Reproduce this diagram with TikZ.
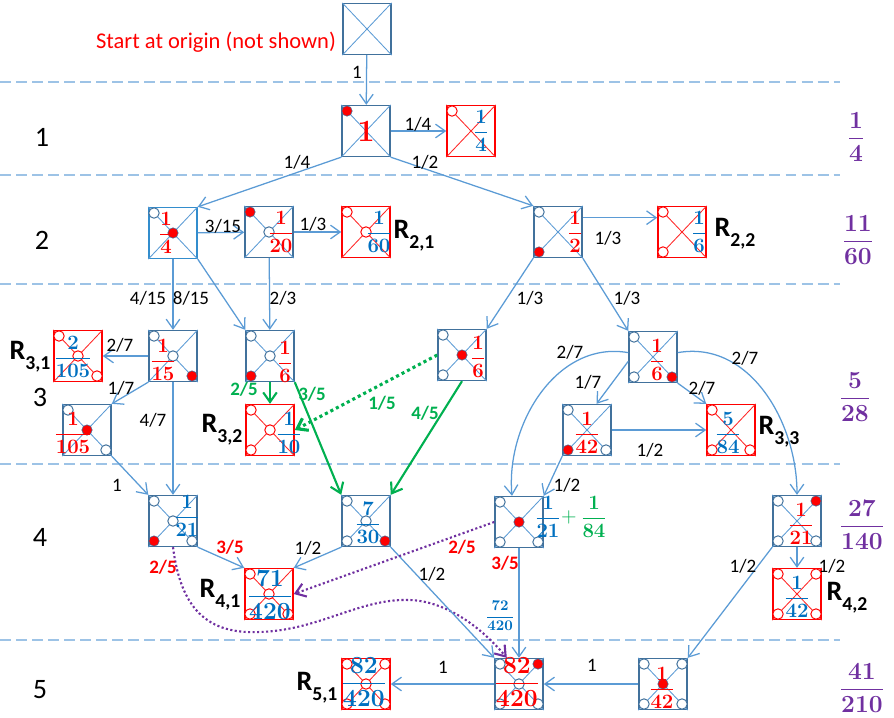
\RequirePackage{fix-cm}
\documentclass[tikz,border=0pt]{standalone}
\usepackage{amsmath}
\usepackage[no-math]{fontspec}
\setmainfont{Carlito}
\usetikzlibrary{arrows.meta}

\definecolor{boxblue}{RGB}{65,113,156}
\definecolor{lineblue}{RGB}{91,155,213}
\definecolor{dashblue}{RGB}{157,195,230}
\definecolor{fblue}{RGB}{0,112,192}
\definecolor{grn}{RGB}{0,176,80}
\definecolor{purp}{RGB}{112,48,160}

\newcommand{\cross}[2]{\draw[#2] (#1.north west) -- (#1.south east) (#1.north east) -- (#1.south west);}
\newcommand{\mk}[3]{\draw[#3] (#1) ++(#2) circle[radius=0.13cm];}
\newcommand{\fr}[2]{$\dfrac{\mathbf{#1}}{\mathbf{#2}}$}
\newcommand{\Rs}[1]{R\raisebox{-0.35em}{\fontsize{14}{14}\selectfont\bfseries #1}}

\tikzset{
  box/.style={draw=boxblue, fill=white, line width=1.1pt, minimum width=1.2cm, minimum height=1.27cm, inner sep=0pt},
  rbox/.style={box, draw=red},
  dg/.style={draw=lineblue, line width=0.6pt},
  rdg/.style={draw=red!85, line width=0.6pt},
  oc/.style={fill=white, draw=boxblue, line width=0.7pt},
  roc/.style={fill=white, draw=red, line width=0.7pt},
  dot/.style={fill=red, draw=boxblue, line width=0.4pt},
  tip/.style={-{Straight Barb[length=2.4mm,width=3.4mm]}},
  flow/.style={tip, draw=lineblue, line width=0.9pt},
  gflow/.style={tip, draw=grn, line width=1.5pt},
  gdot/.style={gflow, line width=2.2pt, dash pattern=on 2.2pt off 2.2pt},
  pdot/.style={tip, draw=purp, line width=1.5pt, dash pattern=on 1.5pt off 1.7pt},
  sep/.style={draw=dashblue, line width=1.2pt, dash pattern=on 7.8pt off 3.6pt},
  lab/.style={font=\fontsize{13.5}{13.5}\selectfont, inner sep=1pt},
  blab/.style={lab, font=\fontsize{13.5}{13.5}\selectfont\bfseries},
  fr/.style={font=\fontsize{14.5}{14.5}\selectfont, inner sep=0pt},
  bigfr/.style={font=\fontsize{17.5}{17.5}\selectfont, inner sep=0pt},
  rl/.style={font=\fontsize{20}{20}\selectfont\bfseries, inner sep=0pt},
  rownum/.style={font=\fontsize{20}{20}\selectfont},
  tot/.style={text=purp, font=\fontsize{17.5}{17.5}\selectfont, inner sep=0pt}
}

\begin{document}
\begin{tikzpicture}[x=0.025cm, y=-0.025cm]
\useasboundingbox (0,0) rectangle (894,717);

% level separators
\foreach \yy in {82,175,284,464,640}
  \draw[sep] (0,\yy) -- (840,\yy);

% row numbers and totals
\node[rownum] (n1) at (42,137) {1};
\node[rownum] (n2) at (42,240) {2};
\node[rownum] (n3) at (40,397) {3};
\node[rownum] (n4) at (40,537) {4};
\node[rownum] (n5) at (40,690) {5};
\node[tot] (t1) at (856,137) {\fr{1}{4}};
\node[tot] (t2) at (858,240) {\fr{11}{60}};
\node[tot] (t3) at (855,397) {\fr{5}{28}};
\node[tot] (t4) at (862,525) {\fr{27}{140}};
\node[tot] (t5) at (862,688) {\fr{41}{210}};

\node[text=red, font=\fontsize{16}{16}\selectfont] (start) at (216,42) {Start at origin (not shown)};

% boxes
\node[box] (o) at (367,29) {};
\node[box] (a) at (366,131) {};
\node[rbox] (ra) at (471,131) {};
\node[box, draw=fblue!80] (b1) at (173,233) {};
\node[box] (b2) at (269,232) {};
\node[rbox] (rb1) at (366,232) {};
\node[box] (b3) at (558,232) {};
\node[rbox] (rb2) at (682,232) {};
\node[rbox] (rc1) at (78,356) {};
\node[box] (c1) at (173,356) {};
\node[box] (c2) at (270,356) {};
\node[box] (c3) at (87,430) {};
\node[rbox] (rc2) at (270,430) {};
\node[box] (c4) at (462,355) {};
\node[box] (c5) at (653,357) {};
\node[box] (c6) at (587,430) {};
\node[rbox] (rc3) at (731,430) {};
\node[box] (d1) at (173,521) {};
\node[box] (d2) at (366,521) {};
\node[rbox] (rd1) at (269,594) {};
\node[box] (d3) at (519,522) {};
\node[box] (d4) at (797,521) {};
\node[rbox] (rd2) at (797,594) {};
\node[rbox] (re1) at (366,684) {};
\node[box] (e1) at (519,684) {};
\node[box] (e2) at (663,684) {};

% crosses and corner marks
\cross{o}{dg}
\cross{a}{dg} \mk{a}{-19,-20}{dot}
\cross{ra}{rdg} \mk{ra}{-19,-20}{roc}
\cross{b1}{dg} \mk{b1}{-19,-20}{oc} \mk{b1}{0,0}{dot}
\cross{b2}{dg} \mk{b2}{-19,-20}{dot} \mk{b2}{0,0}{oc}
\cross{rb1}{rdg} \mk{rb1}{-19,-20}{roc} \mk{rb1}{0,0}{roc}
\cross{b3}{dg} \mk{b3}{-19,-20}{oc} \mk{b3}{-19,20}{dot}
\cross{rb2}{rdg} \mk{rb2}{-19,-20}{roc} \mk{rb2}{-19,20}{roc}
\cross{rc1}{rdg} \mk{rc1}{-19,-20}{roc} \mk{rc1}{0,0}{roc} \mk{rc1}{19,20}{roc}
\cross{c1}{dg} \mk{c1}{-19,-20}{oc} \mk{c1}{0,0}{oc} \mk{c1}{19,20}{dot}
\cross{c2}{dg} \mk{c2}{-19,-20}{oc} \mk{c2}{0,0}{oc} \mk{c2}{-19,20}{dot}
\cross{c3}{dg} \mk{c3}{-19,-20}{oc} \mk{c3}{0,0}{dot} \mk{c3}{19,20}{oc}
\cross{rc2}{rdg} \mk{rc2}{-19,-20}{roc} \mk{rc2}{0,0}{roc} \mk{rc2}{-19,20}{roc}
\cross{c4}{dg} \mk{c4}{-19,-20}{oc} \mk{c4}{-19,20}{oc} \mk{c4}{0,0}{dot}
\cross{c5}{dg} \mk{c5}{-19,-20}{oc} \mk{c5}{-19,20}{oc} \mk{c5}{19,20}{dot}
\cross{c6}{dg} \mk{c6}{-19,-20}{oc} \mk{c6}{-19,20}{dot} \mk{c6}{19,20}{oc}
\cross{rc3}{rdg} \mk{rc3}{-19,-20}{roc} \mk{rc3}{-19,20}{roc} \mk{rc3}{19,20}{roc}
\cross{d1}{dg} \mk{d1}{-19,-20}{oc} \mk{d1}{0,0}{oc} \mk{d1}{19,20}{oc} \mk{d1}{-19,20}{dot}
\cross{d2}{dg} \mk{d2}{-19,-20}{oc} \mk{d2}{0,0}{oc} \mk{d2}{-19,20}{oc} \mk{d2}{19,20}{dot}
\cross{rd1}{rdg} \mk{rd1}{-19,-20}{roc} \mk{rd1}{0,0}{roc} \mk{rd1}{-19,20}{roc} \mk{rd1}{19,20}{roc}
\cross{d3}{dg} \mk{d3}{-19,-20}{oc} \mk{d3}{-19,20}{oc} \mk{d3}{19,20}{oc} \mk{d3}{0,0}{dot}
\cross{d4}{dg} \mk{d4}{-19,-20}{oc} \mk{d4}{-19,20}{oc} \mk{d4}{19,20}{oc} \mk{d4}{19,-20}{dot}
\cross{rd2}{rdg} \mk{rd2}{-19,-20}{roc} \mk{rd2}{19,-20}{roc} \mk{rd2}{-19,20}{roc} \mk{rd2}{19,20}{roc}
\cross{re1}{rdg} \mk{re1}{-19,-20}{roc} \mk{re1}{19,-20}{roc} \mk{re1}{-19,20}{roc} \mk{re1}{19,20}{roc} \mk{re1}{0,0}{roc}
\cross{e1}{dg} \mk{e1}{-19,-20}{oc} \mk{e1}{0,0}{oc} \mk{e1}{-19,20}{oc} \mk{e1}{19,20}{oc} \mk{e1}{19,-20}{dot}
\cross{e2}{dg} \mk{e2}{-19,-20}{oc} \mk{e2}{19,-20}{oc} \mk{e2}{-19,20}{oc} \mk{e2}{19,20}{oc} \mk{e2}{0,0}{dot}

% fractions in the boxes
\node[fr, text=red, font=\fontsize{22}{22}\selectfont] (fa) at (366,132) {$\mathbf{1}$};
\node[fr, text=fblue] (fra) at (481,131) {\fr{1}{4}};
\node[fr, text=red] (fb1) at (166,233) {\fr{1}{4}};
\node[fr, text=red] (fb2) at (281,232) {\fr{1}{20}};
\node[fr, text=fblue] (frb1) at (379,232) {\fr{1}{60}};
\node[fr, text=red] (fb3) at (575,232) {\fr{1}{2}};
\node[fr, text=fblue] (frb2) at (699,232) {\fr{1}{6}};
\node[fr, text=fblue] (frc1) at (73,357) {\fr{2}{105}};
\node[fr, text=red] (fc1) at (163,360) {\fr{1}{15}};
\node[fr, text=red] (fc2) at (285,362) {\fr{1}{6}};
\node[fr, text=red] (fc3) at (73,433) {\fr{1}{105}};
\node[fr, text=fblue] (frc2) at (289,433) {\fr{1}{10}};
\node[fr, text=red] (fc4) at (478,357) {\fr{1}{6}};
\node[fr, text=red] (fc5) at (657,360) {\fr{1}{6}};
\node[fr, text=red] (fc6) at (587,433) {\fr{1}{42}};
\node[fr, text=fblue] (frc3) at (728,433) {\fr{5}{84}};
\node[fr, text=fblue] (fd1) at (187,516) {\fr{1}{21}};
\node[fr, text=fblue] (fd2) at (368,523) {\fr{7}{30}};
\node[bigfr, text=fblue] (frd1) at (270,595) {\fr{71}{420}};
\node[fr, text=fblue] (fd3) at (548,517) {\fr{1}{21}};
\node[fr, text=grn] (plus) at (569,517) {$+$};
\node[fr, text=grn] (fd3b) at (594,517) {\fr{1}{84}};
\node[fr, text=red] (fd4) at (801,524) {\fr{1}{21}};
\node[fr, text=fblue] (frd2) at (797,597) {\fr{1}{42}};
\node[bigfr, text=fblue] (fre1) at (364,682) {\fr{82}{420}};
\node[bigfr, text=red] (fe1) at (517,682) {\fr{82}{420}};
\node[fr, text=red] (fe2) at (662,688) {\fr{1}{42}};

% result labels
\node[rl] (R21) at (414,236) {\Rs{2,1}};
\node[rl] (R22) at (735,234) {\Rs{2,2}};
\node[rl] (R31) at (30,357) {\Rs{3,1}};
\node[rl] (R32) at (222,430) {\Rs{3,2}};
\node[rl] (R33) at (779,432) {\Rs{3,3}};
\node[rl] (R41) at (220,595) {\Rs{4,1}};
\node[rl] (R42) at (847,598) {\Rs{4,2}};
\node[rl] (R51) at (317,688) {\Rs{5,1}};

% transitions
\draw[flow] (o) -- (a);
\draw[flow] (a) -- (ra);
\draw[flow] (a.south west) -- (b1.north east);
\draw[flow] (a.south east) -- (b3.north west);
\draw[flow] (b1) -- (b2);
\draw[flow] (b2) -- (rb1);
\draw[flow] (b3.30) -- (rb2.150);
\draw[flow] (b1) -- (c1);
\draw[flow] (b1.south east) -- (c2.north west);
\draw[flow] (b2) -- (c2);
\draw[flow] (b3.south west) -- (c4.north east);
\draw[flow] (b3.south east) -- (c5.north west);
\draw[flow] (c1) -- (rc1);
\draw[flow] (c1.south west) -- (c3.north east);
\draw[flow] (c1) -- (d1);
\draw[flow] (c3.south east) -- (d1.north west);
\draw[gflow] (c2) -- (rc2);
\draw[gflow] (c2.south east) -- (d2.north west);
\draw[gdot] (c4.west) -- (rc2.east);
\draw[gflow] (c4.south) -- (d2.north east);
\draw[flow] (c5.190) -- (c6.70);
\draw[flow] (c5.south east) -- (rc3.north west);
\draw[flow] (c5.170) to[out=170,in=95] (d3.105);
\draw[flow] (c5.10) to[out=10,in=90] (d4.north);
\draw[flow] (c6) -- (rc3);
\draw[flow] (c6.south west) -- (d3.north east);
\draw[flow] (d1.south east) -- (rd1.north west);
\draw[pdot] (d1.south) .. controls (180,600) and (200,635) .. (260,632)
  .. controls (320,630) and (360,598) .. (410,600)
  .. controls (440,601) and (475,620) .. (e1.115);
\draw[flow] (d2.south west) -- (rd1.north east);
\draw[flow] (d2.south east) -- (e1.north west);
\draw[pdot] (d3.west) -- (rd1.east);
\draw[flow] (d3) -- (e1);
\draw[flow] (d4) -- (rd2);
\draw[flow] (d4.south west) -- (e2.north east);
\draw[flow] (e2) -- (e1);
\draw[flow] (e1) -- (re1);

% probabilities
\node[lab] (p1) at (357,72) {1};
\node[lab] (p2) at (418,124) {1/4};
\node[lab] (p3) at (297,162) {1/4};
\node[lab] (p4) at (425,162) {1/2};
\node[lab] (p5) at (223,226) {3/15};
\node[lab] (p6) at (313,224) {1/3};
\node[lab] (p7) at (608,238) {1/3};
\node[lab] (p8) at (148,298) {4/15};
\node[lab] (p9) at (191,298) {8/15};
\node[lab] (p10) at (283,298) {2/3};
\node[lab] (p11) at (530,298) {1/3};
\node[lab] (p12) at (627,298) {1/3};
\node[lab] (p13) at (120,345) {2/7};
\node[lab] (p14) at (121,388) {1/7};
\node[lab] (p15) at (153,420) {4/7};
\node[lab] (p16) at (117,485) {1};
\node[blab, text=grn] (p17) at (244,389) {2/5};
\node[blab, text=grn] (p18) at (312,394) {3/5};
\node[blab, text=grn] (p19) at (382,403) {1/5};
\node[blab, text=grn] (p20) at (425,413) {4/5};
\node[lab] (p21) at (570,352) {2/7};
\node[lab] (p22) at (588,382) {1/7};
\node[lab] (p23) at (702,388) {2/7};
\node[lab] (p24) at (745,358) {2/7};
\node[lab] (p25) at (650,450) {1/2};
\node[lab] (p26) at (567,485) {1/2};
\node[blab, text=red] (p27) at (230,547) {3/5};
\node[blab, text=red] (p28) at (163,567) {2/5};
\node[lab] (p29) at (308,548) {1/2};
\node[lab] (p30) at (432,574) {1/2};
\node[blab, text=red] (p31) at (462,547) {2/5};
\node[blab, text=red] (p32) at (505,563) {3/5};
\node[fr, text=fblue, font=\fontsize{10.5}{10.5}\selectfont] (p33) at (500,616) {\fr{72}{420}};
\node[lab] (p34) at (832,566) {1/2};
\node[lab] (p35) at (743,566) {1/2};
\node[lab] (p36) at (592,665) {1};
\node[lab] (p37) at (443,667) {1};
\end{tikzpicture}
\end{document}
